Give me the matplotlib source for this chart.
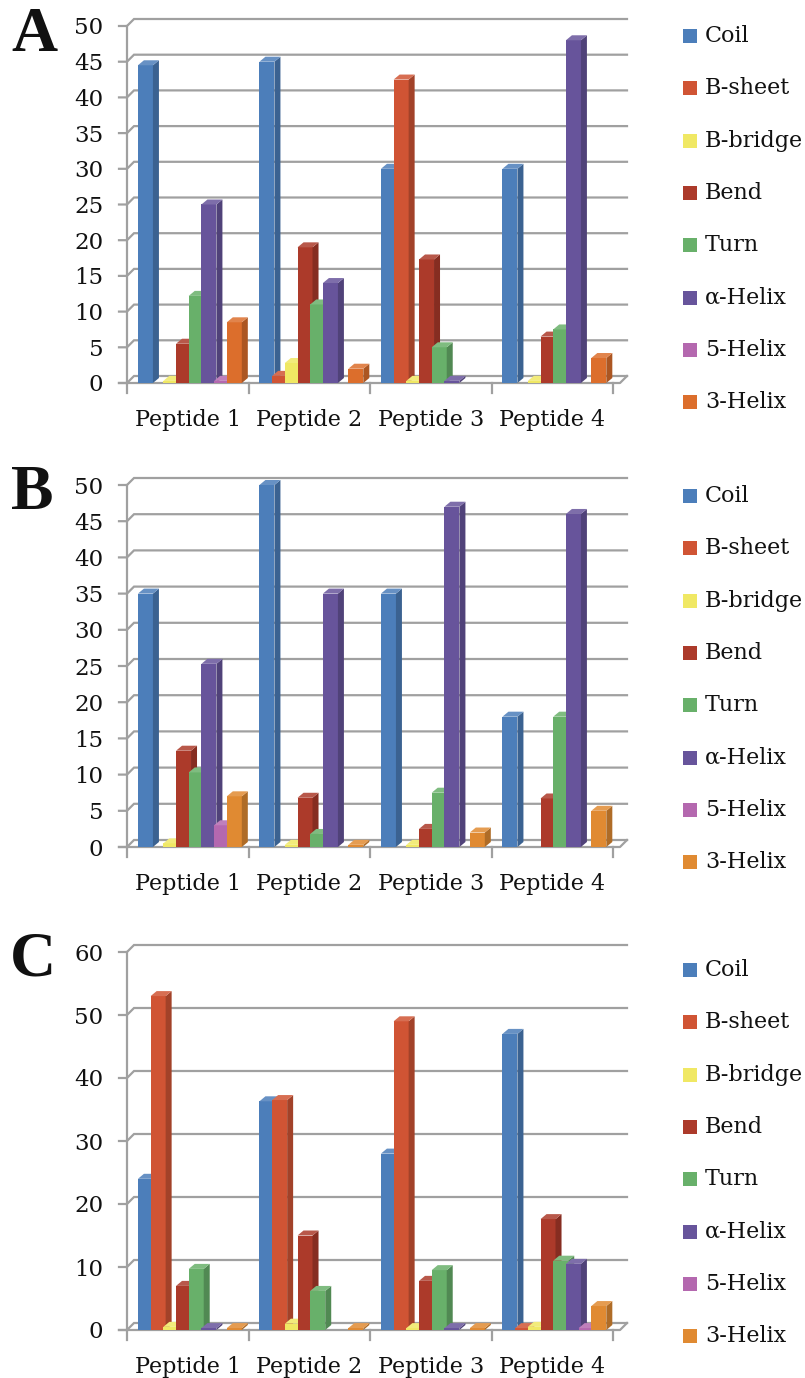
import matplotlib
matplotlib.use("Agg")
import matplotlib.pyplot as plt
import matplotlib.colors as mcolors
from matplotlib.patches import Polygon, Rectangle
import numpy as np

W, H = 805, 1378
SERIF = "DejaVu Serif"

categories = ["Peptide 1", "Peptide 2", "Peptide 3", "Peptide 4"]
series = ["Coil", "B-sheet", "B-bridge", "Bend", "Turn", "\u03b1-Helix", "5-Helix", "3-Helix"]

# rows follow `series`, columns follow `categories`
panel_a = [
    [44.5, 45.0, 30.0, 30.0],   # Coil
    [0.0, 1.0, 42.5, 0.0],      # B-sheet
    [0.3, 2.8, 0.3, 0.3],       # B-bridge
    [5.5, 19.0, 17.3, 6.5],     # Bend
    [12.2, 11.0, 5.0, 7.5],     # Turn
    [25.0, 14.0, 0.3, 48.0],    # alpha-Helix
    [0.3, 0.0, 0.0, 0.0],       # 5-Helix
    [8.5, 2.0, 0.0, 3.5],       # 3-Helix
]
panel_b = [
    [35.0, 50.0, 35.0, 18.0],
    [0.0, 0.0, 0.0, 0.0],
    [0.5, 0.3, 0.3, 0.0],
    [13.3, 6.8, 2.5, 6.7],
    [10.3, 1.8, 7.5, 18.0],
    [25.3, 35.0, 47.0, 46.0],
    [3.0, 0.0, 0.0, 0.0],
    [7.0, 0.3, 2.0, 5.0],
]
panel_c = [
    [24.0, 36.3, 28.0, 47.0],
    [53.0, 36.5, 49.0, 0.3],
    [0.5, 1.0, 0.3, 0.5],
    [7.0, 15.0, 7.8, 17.6],
    [9.7, 6.2, 9.5, 11.0],
    [0.3, 0.0, 0.3, 10.5],
    [0.0, 0.0, 0.0, 0.3],
    [0.3, 0.3, 0.3, 3.8],
]

colors_a = ["#4c7eba", "#d05434", "#f0e864", "#ac3a2a", "#68b06a", "#67549b", "#b468af", "#dc6e2c"]
colors_bc = ["#4c7eba", "#d05434", "#f0e864", "#ac3a2a", "#68b06a", "#67549b", "#b468af", "#e08a32"]

GRID = "#a0a0a0"
TEXT = "#111111"
fig = plt.figure(figsize=(W / 100, H / 100), dpi=100)


def shade(color, f):
    r, g, b = mcolors.to_rgb(color)
    if f < 1:
        return (r * f, g * f, b * f)
    return tuple(c + (1 - c) * (f - 1) for c in (r, g, b))


def draw_panel(letter, letter_xy, y0, ytop, ymax, step, values, colors, legend_top):
    left, right = 127, 613
    ax = fig.add_axes([left / W, 1 - y0 / H, (right - left) / W, (y0 - ytop) / H])
    ax.set_xlim(0, 4)
    ax.set_ylim(0, ymax)
    ax.set_facecolor("none")
    for sp in ax.spines.values():
        sp.set_visible(False)

    kx = 4 / (right - left)          # data units per pixel, x
    ky = ymax / (y0 - ytop)          # data units per pixel, y
    wdx, wdy = 7 * kx, 7 * ky        # back-wall offset
    xend = 500 * kx

    # back wall gridlines with the short connectors to the front axis
    for v in np.arange(0, ymax + 0.01, step):
        ax.plot([-8 * kx, 0, wdx, xend], [v, v, v + wdy, v + wdy],
                color=GRID, lw=1.6, clip_on=False, zorder=1, solid_joinstyle="miter")
    ax.plot([0, 0], [0, ymax], color=GRID, lw=1.6, clip_on=False, zorder=1)
    # front floor edge
    ax.plot([-8 * kx, xend - wdx, xend], [0, 0, wdy], color=GRID, lw=1.6,
            clip_on=False, zorder=2)
    for c in range(5):
        ax.plot([c, c], [0, -10 * ky], color=GRID, lw=1.6, clip_on=False, zorder=1)

    # columns with side and top faces
    pitch, start = 0.1045, 0.09
    front = 15 * kx
    bdx, bdy = 6 * kx, 5 * ky
    base = np.arange(len(categories))
    for j, name in enumerate(series):
        z = 3 + j
        bars = ax.bar(base + start + j * pitch, values[j], width=front, align="edge",
                      color=colors[j], zorder=z, clip_on=False)
        for p in bars.patches:
            h = p.get_height()
            if h <= 0:
                continue
            x, w = p.get_x(), p.get_width()
            side = Polygon([(x + w, 0), (x + w + bdx, bdy), (x + w + bdx, h + bdy), (x + w, h)],
                           closed=True, facecolor=shade(colors[j], 0.78), edgecolor="none",
                           zorder=z + 0.1, clip_on=False)
            top = Polygon([(x, h), (x + w, h), (x + w + bdx, h + bdy), (x + bdx, h + bdy)],
                          closed=True, facecolor=shade(colors[j], 1.15), edgecolor="none",
                          zorder=z + 0.1, clip_on=False)
            ax.add_patch(side)
            ax.add_patch(top)

    ax.set_yticks(np.arange(0, ymax + 0.01, step))
    ax.set_yticklabels([f"{int(v)}" for v in np.arange(0, ymax + 0.01, step)],
                       fontfamily=SERIF, fontsize=16.5, color=TEXT)
    ax.set_xticks(base + 0.5)
    ax.set_xticklabels(categories, fontfamily=SERIF, fontsize=16, color=TEXT)
    ax.tick_params(axis="y", length=0, pad=17)
    ax.tick_params(axis="x", length=0, pad=19)

    fig.text(letter_xy[0] / W, 1 - letter_xy[1] / H, letter, fontsize=46,
             fontweight="bold", family="Liberation Serif", ha="center", va="center",
             color=TEXT)

    # legend
    for j, name in enumerate(series):
        yc = legend_top + j * 52.3
        fig.patches.append(Rectangle((683 / W, 1 - (yc + 7) / H), 14 / W, 14 / H,
                                     transform=fig.transFigure, facecolor=colors[j],
                                     edgecolor="none"))
        fig.text(705 / W, 1 - yc / H, name, fontsize=16, family=SERIF,
                 color=TEXT, ha="left", va="center")


draw_panel("A", (34, 36), 383, 26, 50, 5, panel_a, colors_a, 36)
draw_panel("B", (32, 494), 847, 485, 50, 5, panel_b, colors_bc, 496)
draw_panel("C", (33, 961), 1330, 952, 60, 10, panel_c, colors_bc, 970)

fig.savefig("out.png", dpi=100, facecolor="white")
